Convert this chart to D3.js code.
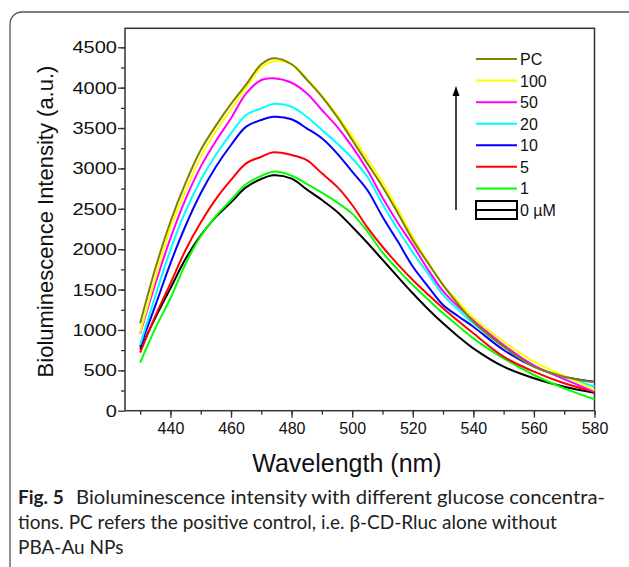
<!DOCTYPE html>
<html>
<head>
<meta charset="utf-8">
<script src="https://cdn.jsdelivr.net/npm/d3@7"></script>
<style>
  html, body { margin: 0; padding: 0; background: #fff; }
  svg { display: block; }
</style>
</head>
<body>
<svg id="chart" width="629" height="567"></svg>
<script>
// wavelength (nm)
const wavelengths = [430, 435, 440, 445, 450, 455, 460, 465, 470, 474, 480, 485, 490, 495, 500, 505, 510, 515, 520, 525, 530, 535, 540, 550, 560, 570, 580];

// intensity (a.u.) per glucose concentration
const intensity0   = [760, 1150, 1515, 1880, 2170, 2400, 2580, 2766, 2869, 2915, 2873, 2740, 2609, 2464, 2278, 2080, 1870, 1660, 1454, 1260, 1082, 920, 772, 545, 401, 297, 223];
const intensity1   = [594, 1020, 1392, 1820, 2160, 2410, 2609, 2807, 2906, 2960, 2910, 2810, 2700, 2580, 2440, 2220, 1960, 1750, 1556, 1380, 1206, 1050, 896, 649, 442, 277, 141];
const intensity5   = [718, 1170, 1577, 1990, 2330, 2620, 2857, 3063, 3145, 3200, 3166, 3104, 2939, 2774, 2547, 2270, 2030, 1815, 1618, 1440, 1268, 1110, 958, 669, 483, 339, 235];
const intensity10  = [792, 1300, 1825, 2290, 2692, 3020, 3290, 3517, 3600, 3640, 3608, 3497, 3373, 3187, 2960, 2733, 2402, 2100, 1785, 1540, 1309, 1170, 1040, 752, 545, 421, 359];
const intensity20  = [813, 1420, 1990, 2470, 2857, 3170, 3435, 3661, 3744, 3798, 3764, 3640, 3476, 3311, 3125, 2898, 2560, 2250, 1960, 1700, 1433, 1250, 1082, 793, 545, 421, 297];
const intensity50  = [955, 1570, 2135, 2620, 3022, 3340, 3621, 3930, 4095, 4116, 4061, 3930, 3723, 3517, 3269, 2980, 2640, 2330, 2050, 1750, 1480, 1290, 1123, 814, 560, 390, 235];
const intensity100 = [966, 1640, 2262, 2720, 3140, 3460, 3730, 4000, 4250, 4325, 4290, 4110, 3900, 3660, 3400, 3120, 2830, 2500, 2150, 1840, 1560, 1350, 1150, 855, 607, 430, 256];
const intensityPC  = [1082, 1760, 2340, 2820, 3228, 3530, 3800, 4040, 4290, 4365, 4290, 4100, 3890, 3640, 3352, 3063, 2774, 2450, 2114, 1830, 1556, 1320, 1102, 793, 545, 421, 351];

const seriesNames  = ["0", "1", "5", "10", "20", "50", "100", "PC"];
const seriesValues = [intensity0, intensity1, intensity5, intensity10, intensity20, intensity50, intensity100, intensityPC];
const seriesColors = ["#000000", "#00ff00", "#ff0000", "#0000ff", "#00ffff", "#ff00ff", "#ffff00", "#808000"];

const xTicks = [440, 460, 480, 500, 520, 540, 560, 580];
const yTicks = [0, 500, 1000, 1500, 2000, 2500, 3000, 3500, 4000, 4500];

const captionLines = [
  "Bioluminescence intensity with different glucose concentra-",
  "tions. PC refers the positive control, i.e. β-CD-Rluc alone without",
  "PBA-Au NPs"
];

const svg = d3.select("#chart");
const font = "'Liberation Sans', Arial, sans-serif";

// 바깥 둥근 테두리
svg.append("rect")
  .attr("x", 10).attr("y", 12)
  .attr("width", 640).attr("height", 600)
  .attr("rx", 12)
  .attr("fill", "none")
  .attr("stroke", "#555")
  .attr("stroke-width", 1.3);

const plotLeft = 125, plotRight = 594.5, plotTop = 28.3, plotBottom = 410.7;

const x = d3.scaleLinear().domain([425, 580]).range([plotLeft, plotRight]);
const y = d3.scaleLinear().domain([0, 4735]).range([plotBottom, plotTop]);

// 축 (minor ticks)
svg.append("g")
  .attr("transform", `translate(0,${plotBottom})`)
  .call(d3.axisBottom(x).tickValues(d3.range(430, 581, 10)).tickSize(4).tickFormat(""))
  .call(g => g.select(".domain").remove());

svg.append("g")
  .attr("transform", `translate(${plotLeft},0)`)
  .call(d3.axisLeft(y).tickValues(d3.range(250, 4750, 250)).tickSize(4).tickFormat(""))
  .call(g => g.select(".domain").remove());

// 축 (major ticks)
svg.append("g")
  .attr("transform", `translate(0,${plotBottom})`)
  .call(d3.axisBottom(x).tickValues(xTicks).tickSize(7).tickPadding(5))
  .call(g => g.select(".domain").remove())
  .call(g => g.selectAll(".tick text")
    .attr("font-family", font)
    .attr("font-size", "16px")
    .attr("fill", "#111"));

// y 라벨은 원본에서 가로로 넓게 보임
const yStretch = 1.18;
svg.append("g")
  .attr("transform", `translate(${plotLeft},0)`)
  .call(d3.axisLeft(y).tickValues(yTicks).tickSize(7).tickFormat(d3.format("d")))
  .call(g => g.select(".domain").remove())
  .call(g => g.selectAll(".tick text")
    .attr("x", -8 / yStretch)
    .attr("transform", `scale(${yStretch},1)`)
    .attr("font-family", font)
    .attr("font-size", "17px")
    .attr("fill", "#111"));

svg.selectAll(".tick line").attr("stroke", "#333").attr("stroke-width", 1.3);

// 플롯 테두리
svg.append("rect")
  .attr("x", plotLeft).attr("y", plotTop)
  .attr("width", plotRight - plotLeft).attr("height", plotBottom - plotTop)
  .attr("fill", "none")
  .attr("stroke", "#333")
  .attr("stroke-width", 1.5);

// 곡선
const line = d3.line()
  .x((d, i) => x(wavelengths[i]))
  .y(d => y(d))
  .curve(d3.curveCatmullRom.alpha(0.5));

seriesValues.forEach((vals, k) => {
  svg.append("path")
    .datum(vals)
    .attr("fill", "none")
    .attr("stroke", seriesColors[k])
    .attr("stroke-width", 2)
    .attr("d", line);
});

// 범례
const legendY = d3.scalePoint()
  .domain(seriesNames.slice().reverse())
  .range([59, 210]);

seriesNames.forEach((name, k) => {
  const ly = legendY(name);
  if (name === "0") {
    svg.append("rect")
      .attr("x", 476).attr("y", ly - 9)
      .attr("width", 41).attr("height", 18)
      .attr("fill", "none")
      .attr("stroke", "#000")
      .attr("stroke-width", 2);
  }
  svg.append("line")
    .attr("x1", 476).attr("x2", 517)
    .attr("y1", ly).attr("y2", ly)
    .attr("stroke", seriesColors[k])
    .attr("stroke-width", 2);
  svg.append("text")
    .attr("x", 520).attr("y", ly + 6)
    .attr("font-family", font)
    .attr("font-size", "16px")
    .attr("fill", "#111")
    .text(name === "0" ? "0 \u00b5M" : name);
});

// 화살표
svg.append("line")
  .attr("x1", 456).attr("x2", 456)
  .attr("y1", 210).attr("y2", 94)
  .attr("stroke", "#000")
  .attr("stroke-width", 1.5);
svg.append("path")
  .attr("d", "M456,86 L452.5,96 L459.5,96 Z")
  .attr("fill", "#000");

// 축 제목
svg.append("text")
  .attr("transform", `translate(53,${(plotTop + plotBottom) / 2 + 2}) rotate(-90)`)
  .attr("text-anchor", "middle")
  .attr("font-family", font)
  .attr("font-size", "22px")
  .attr("fill", "#111")
  .text("Bioluminescence Intensity (a.u.)");

svg.append("text")
  .attr("x", 347).attr("y", 472)
  .attr("text-anchor", "middle")
  .attr("font-family", font)
  .attr("font-size", "25px")
  .attr("fill", "#111")
  .text("Wavelength (nm)");

// 캡션
const capFont = "Lato, 'Open Sans', sans-serif";

const cap = svg.append("text")
  .attr("y", 504)
  .attr("font-family", capFont)
  .attr("font-size", "19px")
  .attr("fill", "#222");
cap.append("tspan")
  .attr("x", 18)
  .attr("font-weight", "bold")
  .text("Fig. 5");
cap.append("tspan")
  .attr("x", 76)
  .attr("textLength", 529)
  .attr("lengthAdjust", "spacingAndGlyphs")
  .text(captionLines[0]);

captionLines.slice(1).forEach((t, i) => {
  svg.append("text")
    .attr("x", 18).attr("y", 529 + i * 25)
    .attr("font-family", capFont)
    .attr("font-size", "19px")
    .attr("fill", "#222")
    .text(t);
});
</script>
</body>
</html>
